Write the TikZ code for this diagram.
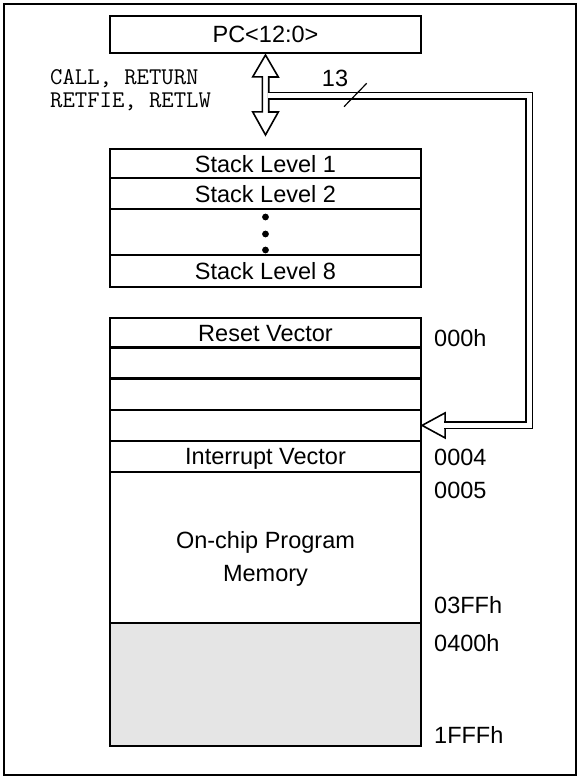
\documentclass[tikz,border=0pt]{standalone}
\usepackage{fontspec}
\setmainfont{Liberation Sans}

\begin{document}
\begin{tikzpicture}[x=1pt,y=-1pt]
      \tikzstyle{every node}=[font=\fontsize{23.5}{33}\selectfont];
      \tikzstyle{row}=[draw,line width=2.2pt,minimum width=311pt,inner sep=0pt,text depth=0pt];
      \tikzstyle{hollow}=[draw,line width=1.6pt,fill=white,line join=miter];
      \tikzstyle{bus}=[line width=1.5pt,double=white,double distance=5pt];
      \tikzstyle{addr}=[anchor=west,inner sep=0pt];

        \useasboundingbox (0,0) rectangle (577,776);
        \draw[line width=2pt] (4.2,4.2) rectangle (575.5,775);

        % program counter and stack
        \node[row,minimum height=37.6pt] (pc) at (265.5,34.5) {PC<12:0>};
        \node[row,minimum height=29pt] (s1) at (265.5,163.5) {Stack Level 1};
        \node[row,minimum height=31pt] (s2) at (265.5,193.5) {Stack Level 2};
        \node[row,minimum height=46pt] (sdots) at (265.5,232) {};
        \node[row,minimum height=32.3pt] (s8) at (265.5,271.2) {Stack Level 8};
        \foreach \y in {217,234,250}
            \fill (265.5,\y) circle (3.4pt);

        % program memory
        \node[row,minimum height=29.5pt] (m0) at (265.5,333) {Reset Vector};
        \node[row,minimum height=31pt] (m1) at (265.5,363) {};
        \node[row,minimum height=31.7pt] (m2) at (265.5,394.2) {};
        \node[row,minimum height=30.7pt] (m3) at (265.5,425.4) {};
        \node[row,minimum height=31.6pt] (iv) at (265.5,456.5) {Interrupt Vector};
        \node[row,minimum height=150.4pt] (prog) at (265.5,547.5) {};
        \node[row,minimum height=123.3pt,fill=black!10] (ext) at (265.5,684.4) {};
        \node[align=center,inner sep=0pt] (progtxt) at (265.5,559) {On-chip Program\\Memory};

        \node[addr] (a0) at (434,338.3) {000h};
        \node[addr] (a4) at (434,457.7) {0004};
        \node[addr] (a5) at (434,490) {0005};
        \node[addr] (a3ff) at (434,605) {03FFh};
        \node[addr] (a400) at (434,642.7) {0400h};
        \node[addr] (a1fff) at (434,735) {1FFFh};

        \node[anchor=west,align=left,inner sep=0pt,font=\ttfamily\fontsize{24}{23}\selectfont] (instr) at (50,90) {CALL, RETURN\\RETFIE, RETLW};

        % arrows and bus
        \coordinate (up) at ([yshift=-0.6pt]pc.south);
        \coordinate (dn) at ([yshift=13pt]s1.north);
        \draw[hollow] (up) -- ++(12.8,22) -- ++(-9.6,0) -- ++(0,35) -- ++(9.6,0) -- (dn)
            -- ++(-12.8,-23) -- ++(9.6,0) -- ++(0,-35) -- ++(-9.6,0) -- cycle;
        \draw[hollow] (m3.east) -- ++(23,-12.5) -- ++(0,25) -- cycle;
        \coordinate (busin) at (267.7,95.6);
        \coordinate (busout) at ([xshift=22pt]m3.east);
        \draw[bus] (busin) -| (529,425.4) -- (busout);

        \node[inner sep=0pt] (width) at (335,78) {13};
        \draw[line width=1.2pt] (344,106.7) -- (366.7,83.3);
\end{tikzpicture}
\end{document}
